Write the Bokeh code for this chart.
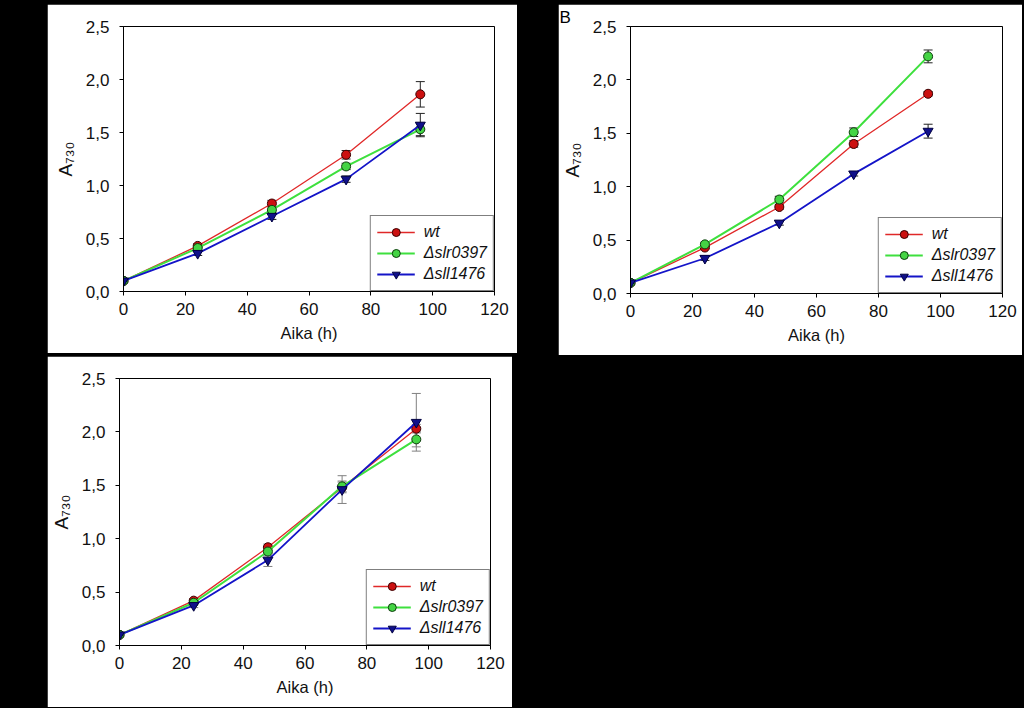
from bokeh.plotting import figure
from bokeh.models import (ColumnDataSource, Whisker, Legend, LegendItem,
                          FixedTicker, Range1d, Title, Spacer)
from bokeh.layouts import row, column
from bokeh.embed import file_html
from bokeh.resources import INLINE

# ---------------- data ----------------
hours = [0, 24, 48, 72, 96]
series_labels = ["wt", "\u0394slr0397", "\u0394sll1476"]
x_ticks = [0, 20, 40, 60, 80, 100, 120]
y_ticks = [0.0, 0.5, 1.0, 1.5, 2.0, 2.5]
y_tick_labels = ["0,0", "0,5", "1,0", "1,5", "2,0", "2,5"]
x_label = "Aika (h)"
y_label = "A\u2087\u2083\u2080"

# panel A
a_wt = [0.10, 0.43, 0.83, 1.29, 1.86]
a_wt_err = [0.01, 0.02, 0.03, 0.04, 0.12]
a_slr = [0.10, 0.41, 0.77, 1.18, 1.53]
a_slr_err = [0.01, 0.02, 0.03, 0.03, 0.06]
a_sll = [0.10, 0.36, 0.71, 1.06, 1.57]
a_sll_err = [0.01, 0.02, 0.03, 0.03, 0.11]

# panel B
b_wt = [0.10, 0.43, 0.81, 1.40, 1.87]
b_wt_err = [0.01, 0.01, 0.02, 0.03, 0.02]
b_slr = [0.10, 0.46, 0.88, 1.51, 2.22]
b_slr_err = [0.01, 0.02, 0.03, 0.04, 0.06]
b_sll = [0.10, 0.33, 0.66, 1.12, 1.52]
b_sll_err = [0.01, 0.02, 0.02, 0.02, 0.065]

# panel C
c_wt = [0.10, 0.42, 0.92, 1.48, 2.03]
c_wt_err = [0.01, 0.02, 0.03, 0.05, 0.04]
c_slr = [0.10, 0.40, 0.88, 1.49, 1.93]
c_slr_err = [0.01, 0.02, 0.04, 0.05, 0.07]
c_sll = [0.10, 0.375, 0.80, 1.46, 2.09]
c_sll_err = [0.01, 0.02, 0.06, 0.13, 0.27]

# ---------------- styles ----------------
FONT = "Liberation Sans"
STYLES = [
    dict(line_color="#e02828", line_width=1.3, marker="circle", size=9,
         fill_color="#cc1010", edge="#3a0000"),
    dict(line_color="#3ee03e", line_width=2.0, marker="circle", size=9,
         fill_color="#44d444", edge="#0d3d0d"),
    dict(line_color="#1414c8", line_width=1.8, marker="inverted_triangle", size=10,
         fill_color="#10108a", edge="#000040"),
]


def make_panel(width, height, left, right, top, bottom, series, err_color, letter=None):
    p = figure(width=width, height=height, x_range=Range1d(0, 120), y_range=Range1d(0, 2.5),
               output_backend="svg", toolbar_location=None,
               min_border_left=left, min_border_right=right,
               min_border_top=top, min_border_bottom=bottom)
    p.background_fill_color = "white"
    p.border_fill_color = "white"
    p.outline_line_color = "black"
    p.outline_line_width = 1
    p.grid.visible = False

    p.xaxis.ticker = FixedTicker(ticks=x_ticks)
    p.yaxis.ticker = FixedTicker(ticks=y_ticks)
    p.yaxis.major_label_overrides = dict(zip(y_ticks, y_tick_labels))
    p.xaxis.axis_label = x_label
    p.yaxis.axis_label = y_label
    for ax in (p.xaxis[0], p.yaxis[0]):
        ax.axis_line_color = "black"
        ax.major_tick_line_color = "black"
        ax.major_tick_out = 4
        ax.major_tick_in = 0
        ax.minor_tick_line_color = None
        ax.major_label_text_font = FONT
        ax.major_label_text_font_size = "17px"
        ax.major_label_text_color = "#111111"
        ax.axis_label_text_font = FONT
        ax.axis_label_text_font_size = "16.5px"
        ax.axis_label_text_font_style = "normal"
        ax.axis_label_text_color = "#111111"
    p.yaxis.axis_label_text_font_size = "19px"
    p.xaxis.major_label_standoff = 7
    p.xaxis.axis_label_standoff = 6
    p.yaxis.major_label_standoff = 10
    p.yaxis.axis_label_standoff = 7

    items = []
    for (vals, errs), st, lab in zip(series, STYLES, series_labels):
        src = ColumnDataSource(dict(
            x=hours, y=vals,
            lo=[v - e for v, e in zip(vals, errs)],
            hi=[v + e for v, e in zip(vals, errs)]))
        w = Whisker(source=src, base="x", upper="hi", lower="lo",
                    line_color=err_color, line_width=1)
        w.upper_head.size = 9
        w.lower_head.size = 9
        w.upper_head.line_color = err_color
        w.lower_head.line_color = err_color
        p.add_layout(w)
        ln = p.line("x", "y", source=src, line_color=st["line_color"],
                    line_width=st["line_width"])
        sc = p.scatter("x", "y", source=src, marker=st["marker"], size=st["size"],
                       fill_color=st["fill_color"], line_color=st["edge"], line_width=1)
        items.append(LegendItem(label=lab, renderers=[ln, sc]))

    legend = Legend(items=items, location="bottom_right", margin=0, padding=6,
                    spacing=1, glyph_width=38, glyph_height=20, label_height=20,
                    label_standoff=9, border_line_color="black", border_line_width=1,
                    background_fill_color="white", background_fill_alpha=1.0,
                    label_text_font=FONT, label_text_font_size="16px",
                    label_text_font_style="italic", label_text_color="#111111")
    p.add_layout(legend)

    if letter:
        p.add_layout(Title(text=letter, align="left", offset=-(left - 1), standoff=0,
                           vertical_align="bottom", text_font=FONT,
                           text_font_size="17px", text_font_style="normal",
                           text_color="black"), "above")
    return p


pA = make_panel(470, 349, 76, 23, 22, 60,
                [(a_wt, a_wt_err), (a_slr, a_slr_err), (a_sll, a_sll_err)], "#222222")
pB = make_panel(464, 351, 72, 20, 22, 62,
                [(b_wt, b_wt_err), (b_slr, b_slr_err), (b_sll, b_sll_err)], "#222222", letter="B")
pC = make_panel(465, 351, 72, 22, 22, 62,
                [(c_wt, c_wt_err), (c_slr, c_slr_err), (c_sll, c_sll_err)], "#808080")

root = column(
    Spacer(width=1024, height=4),
    row(Spacer(width=47, height=10), pA, Spacer(width=41, height=10), pB),
    Spacer(width=1024, height=1),
    row(Spacer(width=47, height=10), pC),
)

html = file_html(root, INLINE, title="A730 growth curves")
html = html.replace("</head>",
                    "<style>html,body{margin:0 !important;padding:0;background:#000000;}</style></head>", 1)
open("out.html", "w").write(html)
